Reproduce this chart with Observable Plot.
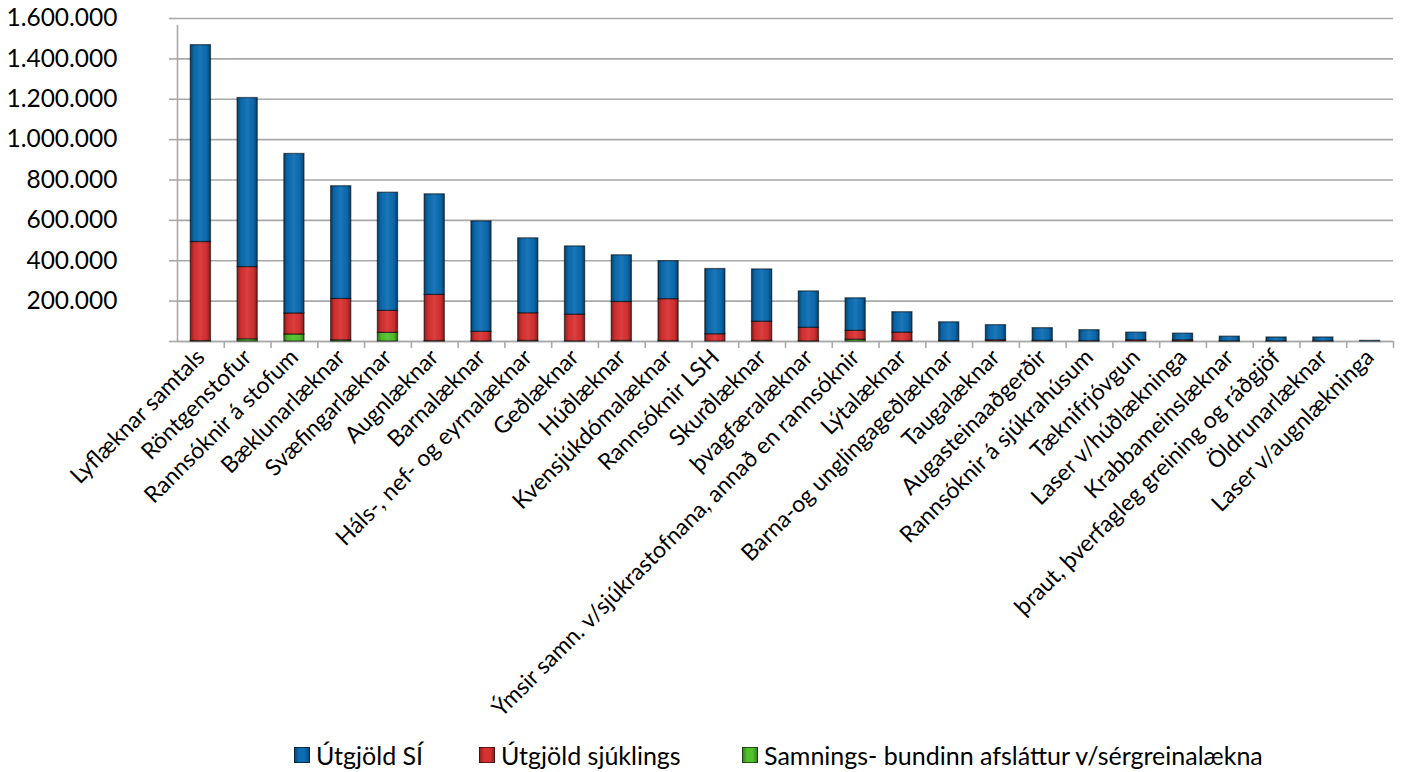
<!DOCTYPE html>
<html><head><meta charset="utf-8">
<script src="https://cdn.jsdelivr.net/npm/d3@7"></script>
<script src="https://cdn.jsdelivr.net/npm/@observablehq/plot@0.6"></script>
<style>
body{margin:0;background:#fff;font-family:Lato,"Open Sans",sans-serif;}
#legend{position:relative;height:34px;font-size:25px;color:#000;}
#legend span.item{position:absolute;top:0;height:34px;display:flex;align-items:center;white-space:nowrap;}
#legend span.sw{display:inline-block;width:14px;height:14px;margin-right:6px;border:1px solid rgba(0,0,0,0.55);}
</style></head>
<body>
<div id="chart"></div><div id="legend"></div>
<script>
const categories = ["Lyflæknar samtals","Röntgenstofur","Rannsóknir á stofum","Bæklunarlæknar","Svæfingarlæknar","Augnlæknar","Barnalæknar","Háls-, nef- og eyrnalæknar","Geðlæknar","Húðlæknar","Kvensjúkdómalæknar","Rannsóknir LSH","Skurðlæknar","þvagfæralæknar","Ýmsir samn. v/sjúkrastofnana, annað en rannsóknir","Lýtalæknar","Barna-og unglingageðlæknar","Taugalæknar","Augasteinaaðgerðir","Rannsóknir á sjúkrahúsum","Tæknifrjóvgun","Laser v/húðlækninga","Krabbameinslæknar","þraut, þverfagleg greining og ráðgjöf","Öldrunarlæknar","Laser v/augnlækninga"];
const utgjoldSI = [975000,837000,790000,558000,585000,498000,547000,371000,338000,231000,188000,323000,259000,180000,161000,101000,93000,75000,63000,54000,38000,33000,23000,19000,19000,3000];
const utgjoldSjuklings = [491000,358000,104000,205000,109000,229000,47000,137000,132000,193000,208000,36000,95000,67000,44000,43000,2000,6000,3000,2000,6000,5000,1000,1000,1000,0];
const samningsAfslattur = [2000,11000,35000,6000,43000,2000,1000,3000,1000,3000,2000,0,3000,1000,9000,1000,0,0,0,0,0,1000,0,0,0,0];
const seriesNames = ["Útgjöld SÍ","Útgjöld sjúklings","Samnings- bundinn afsláttur v/sérgreinalækna"];
const seriesColors = ["#0b6db3","#d93131","#52c22c"];
const yTicks = [0,200000,400000,600000,800000,1000000,1200000,1400000,1600000];

const data = categories.flatMap((c,i)=>[
  {cat:c, series:seriesNames[2], value:samningsAfslattur[i]},
  {cat:c, series:seriesNames[1], value:utgjoldSjuklings[i]},
  {cat:c, series:seriesNames[0], value:utgjoldSI[i]}
]);

const loc = d3.formatLocale({decimal:",", thousands:".", grouping:[3], currency:["",""]});
const fmt = v => v === 0 ? "" : loc.format(",")(v);

const W = 1404, H = 738, mL = 177, mR = 11, mT = 18, mB = H - 341;
const step = (W - mL - mR) / categories.length;
const grid = "#a9a9a9";
const stackOpts = {x: "cat", y: "value", order: [seriesNames[2], seriesNames[1], seriesNames[0]], z: "series"};

const chart = Plot.plot({
  width: W, height: H,
  marginLeft: mL, marginRight: mR, marginTop: mT, marginBottom: mB,
  style: {fontFamily: "Lato, 'Open Sans', sans-serif", color: "#000", background: "#fff"},
  x: {domain: categories, paddingInner: 0.57, paddingOuter: 0.285, round: false, label: null},
  y: {domain: [0, 1600000], label: null},
  color: {domain: seriesNames, range: seriesColors},
  marks: [
    Plot.gridY(yTicks, {stroke: grid, strokeOpacity: 1, strokeWidth: 1.6}),
    Plot.axisY(yTicks, {tickSize: 8, tickPadding: 52, tickFormat: fmt, fontSize: 24.5, stroke: grid, strokeWidth: 1.6, label: null}),
    Plot.ruleX([categories[0]], {y1: 0, y2: 1600000, dx: -step/2, insetBottom: -7, stroke: grid, strokeWidth: 1.6}),
    Plot.ruleX(categories, {y1: 0, y2: 0, dx: step/2, insetBottom: -7, stroke: grid, strokeWidth: 1.6}),
    Plot.ruleY([0], {stroke: grid, strokeWidth: 1.6}),
    Plot.barY(data, Plot.stackY({...stackOpts, fill: "series", stroke: "rgba(0,0,0,0.55)", strokeWidth: 1.3})),
    Plot.barY(data, Plot.stackY({...stackOpts, fill: "white", fillOpacity: 1, className: "shade"})),
    Plot.axisX({tickSize: 0, tickPadding: 12, tickRotate: -45, fontSize: 23, label: null})
  ]
});
// gradient for the bevelled look of the bars
const svg = d3.select(chart.tagName.toLowerCase() === "svg" ? chart : chart.querySelector("svg"));
const grad = svg.insert("defs", ":first-child").append("linearGradient").attr("id", "shade").attr("x1", 0).attr("x2", 1).attr("y1", 0).attr("y2", 0);
[[0,"#000",0.38],[0.2,"#000",0.04],[0.5,"#fff",0.07],[0.8,"#000",0.04],[1,"#000",0.38]].forEach(([o,c,a]) =>
  grad.append("stop").attr("offset", o).attr("stop-color", c).attr("stop-opacity", a));
svg.selectAll(".shade rect").attr("fill", "url(#shade)");
document.getElementById("chart").appendChild(chart);

const lg = document.getElementById("legend");
const legendLeft = [294, 479, 742];
seriesNames.forEach((n,i)=>{
  const it = document.createElement("span"); it.className = "item"; it.style.left = legendLeft[i] + "px";
  const sw = document.createElement("span"); sw.className = "sw";
  sw.style.background = `linear-gradient(90deg, rgba(0,0,0,0.3), rgba(0,0,0,0) 30%, rgba(0,0,0,0) 70%, rgba(0,0,0,0.3)), ${seriesColors[i]}`;
  it.appendChild(sw); it.appendChild(document.createTextNode(n));
  lg.appendChild(it);
});
</script></body></html>
